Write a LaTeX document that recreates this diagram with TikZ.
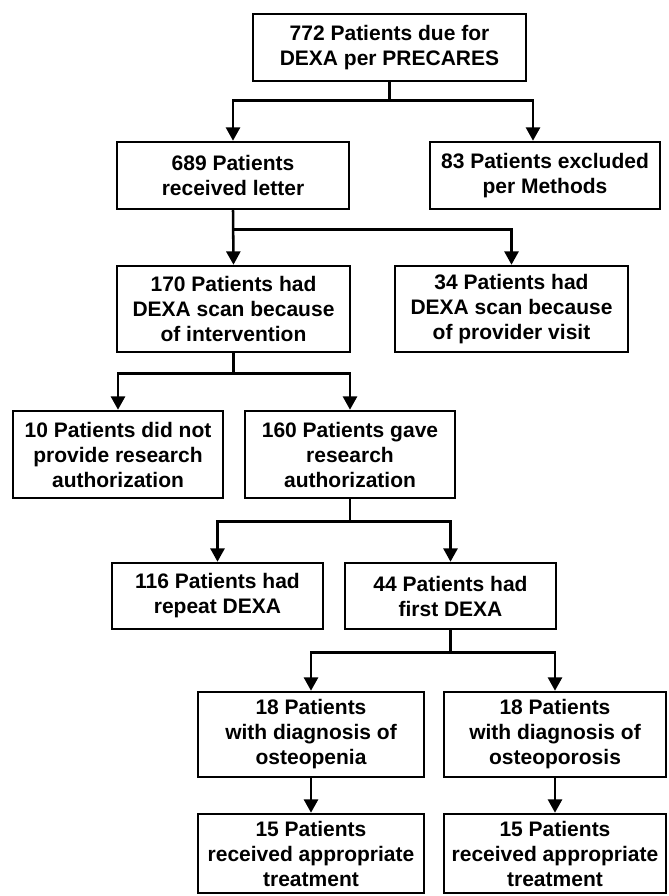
\documentclass[tikz,border=0pt]{standalone}
\usepackage{fontspec}
\setmainfont{Liberation Sans}
\usetikzlibrary{arrows.meta}
\tikzset{
  box/.style={draw, line width=1.9pt, rectangle, inner sep=0pt, align=center,
    font=\fontsize{15.75}{18.75}\selectfont\bfseries},
  conn/.style={line width=1.9pt},
  arr/.style={line width=1.9pt, -{Triangle[length=10pt,width=10.5pt]}}
}
\begin{document}
\begin{tikzpicture}[x=0.75pt,y=-0.75pt]
\useasboundingbox (0,0) rectangle (668,896);
\node[box, minimum width=273*0.75pt, minimum height=67*0.75pt] (A) at (389.5,47.5) {772 Patients due for\\DEXA per PRECARES};
\node[box, minimum width=232*0.75pt, minimum height=67*0.75pt] (B) at (233,175.5) {689 Patients\\received letter};
\node[box, minimum width=230*0.75pt, minimum height=67*0.75pt] (C) at (545,175.5) {83 Patients excluded\\per Methods};
\node[box, minimum width=233*0.75pt, minimum height=86*0.75pt] (D) at (233.5,309) {170 Patients had\\DEXA scan because\\of intervention};
\node[box, minimum width=233*0.75pt, minimum height=86*0.75pt] (E) at (511.5,309) {34 Patients had\\DEXA scan because\\of provider visit};
\node[box, minimum width=210*0.75pt, minimum height=87*0.75pt] (F) at (118,454.5) {10 Patients did not\\provide research\\authorization};
\node[box, minimum width=210*0.75pt, minimum height=87*0.75pt] (G) at (350,454.5) {160 Patients gave\\research\\authorization};
\node[box, minimum width=211*0.75pt, minimum height=66*0.75pt] (H) at (217.5,596) {116 Patients had\\repeat DEXA};
\node[box, minimum width=211*0.75pt, minimum height=66*0.75pt] (I) at (450.5,596) {44 Patients had\\first DEXA};
\node[box, minimum width=226*0.75pt, minimum height=85*0.75pt] (J) at (311,734.5) {18 Patients\\with diagnosis of\\osteopenia};
\node[box, minimum width=222*0.75pt, minimum height=85*0.75pt] (K) at (555,734.5) {18 Patients\\with diagnosis of\\osteoporosis};
\node[box, minimum width=226*0.75pt, minimum height=79*0.75pt] (L) at (311,853.5) {15 Patients\\received appropriate\\treatment};
\node[box, minimum width=222*0.75pt, minimum height=79*0.75pt] (M) at (555,853.5) {15 Patients\\received appropriate\\treatment};
% forks
\draw[arr] (A.south) -- ++(0,18) -| (B.north);
\draw[arr] (A.south) -- ++(0,18) -| ([xshift=-9pt]C.north);
\draw[arr] (B.south) -- (D.north);
\draw[arr] (B.south) -- ++(0,19) -| (E.north);
\draw[arr] (D.south) -- ++(0,20) -| (F.north);
\draw[arr] (D.south) -- ++(0,20) -| (G.north);
\draw[arr] (G.south) -- ++(0,22) -| (H.north);
\draw[arr] (G.south) -- ++(0,22) -| (I.north);
\draw[arr] (I.south) -- ++(0,22) -| (J.north);
\draw[arr] (I.south) -- ++(0,22) -| (K.north);
\draw[arr] (J.south) -- (L.north);
\draw[arr] (K.south) -- (M.north);
\end{tikzpicture}
\end{document}
